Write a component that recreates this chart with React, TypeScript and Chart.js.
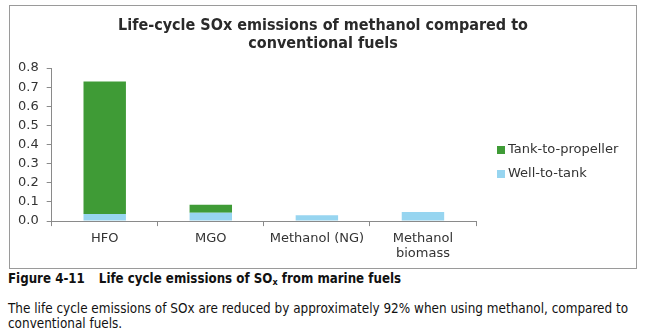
import React, { useEffect, useRef } from "react";
import { Chart, registerables, layouts } from "chart.js";

Chart.register(...registerables);

const categories: (string | string[])[] = ["HFO", "MGO", "Methanol (NG)", ["Methanol", "biomass"]];
const wellToTank = [0.037, 0.043, 0.031, 0.048];
const tankToPropeller = [0.693, 0.042, 0, 0];
const seriesNames = ["Well-to-tank", "Tank-to-propeller"];
const seriesColors = ["#97d5f0", "#3f9b36"];
const titleLines = ["Life-cycle SOx emissions of methanol compared to", "conventional fuels"];
const yMin = 0;
const yMax = 0.8;
const yStep = 0.1;

const AXIS_COLOR = "#8a8a8a";
const TEXT_COLOR = "#333333";
const LEGEND_SPACE = 160;

// Reserves room at the right of the plot (below the full-width title) and draws the legend there.
const sideLegend = {
  id: "sideLegend",
  beforeInit(chart: any) {
    const box: any = {
      position: "right",
      weight: 0,
      fullSize: false,
      options: {},
      left: 0,
      top: 0,
      right: 0,
      bottom: 0,
      width: 0,
      height: 0,
      isHorizontal() {
        return false;
      },
      update(maxWidth: number, maxHeight: number) {
        this.width = LEGEND_SPACE;
        this.height = maxHeight;
        this.maxWidth = maxWidth;
        this.maxHeight = maxHeight;
      },
      draw() {},
    };
    layouts.addBox(chart, box);
  },
  afterDraw(chart: any) {
    const { ctx, chartArea } = chart;
    const items = chart.data.datasets.slice().reverse();
    ctx.save();
    ctx.font = '13px "DejaVu Sans"';
    ctx.textBaseline = "middle";
    ctx.textAlign = "left";
    items.forEach((ds: any, i: number) => {
      const cy = chartArea.top + 82 + i * 24;
      const x = chartArea.right + 21;
      ctx.fillStyle = ds.backgroundColor;
      ctx.fillRect(x, cy - 4, 8, 8);
      ctx.fillStyle = TEXT_COLOR;
      ctx.fillText(ds.label, x + 11, cy);
    });
    ctx.restore();
  },
};

export default function App() {
  const canvasRef = useRef<HTMLCanvasElement | null>(null);

  useEffect(() => {
    if (!canvasRef.current) return;
    const chart = new Chart(canvasRef.current, {
      type: "bar",
      data: {
        labels: categories,
        datasets: [
          {
            label: seriesNames[0],
            data: wellToTank,
            backgroundColor: seriesColors[0],
            borderWidth: 0,
          },
          {
            label: seriesNames[1],
            data: tankToPropeller,
            backgroundColor: seriesColors[1],
            borderWidth: 0,
          },
        ],
      },
      options: {
        animation: false,
        responsive: false,
        maintainAspectRatio: false,
        devicePixelRatio: 1,
        datasets: {
          bar: { barPercentage: 0.4, categoryPercentage: 1 },
        },
        layout: { padding: { left: 0, right: 0, top: 0, bottom: 2 } },
        plugins: {
          legend: { display: false },
          tooltip: { enabled: false },
          title: {
            display: true,
            text: titleLines,
            color: "#2a2a2a",
            font: { family: '"DejaVu Sans Condensed", "DejaVu Sans"', size: 16, weight: "bold", lineHeight: 1.125 },
            padding: { top: 11, bottom: 15 },
          },
        },
        scales: {
          x: {
            stacked: true,
            grid: {
              display: true,
              offset: true,
              drawOnChartArea: false,
              drawTicks: true,
              tickLength: 5,
              color: AXIS_COLOR,
            },
            border: { display: true, color: AXIS_COLOR, width: 1 },
            ticks: {
              color: TEXT_COLOR,
              font: { family: '"DejaVu Sans"', size: 13, lineHeight: 1.15 },
              padding: 5,
              maxRotation: 0,
              autoSkip: false,
            },
          },
          y: {
            stacked: true,
            min: yMin,
            max: yMax,
            grid: {
              display: true,
              drawOnChartArea: false,
              drawTicks: true,
              tickLength: 5,
              color: AXIS_COLOR,
            },
            border: { display: true, color: AXIS_COLOR, width: 1 },
            ticks: {
              stepSize: yStep,
              autoSkip: false,
              color: TEXT_COLOR,
              font: { family: '"DejaVu Sans"', size: 13, lineHeight: 1 },
              padding: 8,
              callback: (v: any) => Number(v).toFixed(1),
            },
          },
        },
      },
      plugins: [sideLegend],
    });
    return () => chart.destroy();
  }, []);

  return (
    <div style={{ position: "absolute", left: 0, top: 0, width: 647, height: 332, background: "#fff" }}>
      <div
        style={{
          position: "absolute",
          left: 9,
          top: 5,
          width: 628,
          height: 264,
          border: "1px solid #9a9a9a",
          boxSizing: "border-box",
        }}
      >
        <canvas ref={canvasRef} width={626} height={262} style={{ display: "block", width: 626, height: 262 }} />
      </div>
      <div
        style={{
          position: "absolute",
          left: 8,
          top: 271,
          whiteSpace: "nowrap",
          fontFamily: '"DejaVu Sans Condensed", "DejaVu Sans", sans-serif',
          fontWeight: "bold",
          fontSize: 13.2,
          lineHeight: "16px",
          color: "#111",
        }}
      >
        <span style={{ marginRight: 14 }}>Figure 4-11</span>
        Life cycle emissions of SO<sub style={{ fontSize: 9, verticalAlign: "-2px" }}>x</sub> from marine fuels
      </div>
      <div
        style={{
          position: "absolute",
          left: 8,
          top: 301,
          whiteSpace: "nowrap",
          fontFamily: '"DejaVu Sans Condensed", "DejaVu Sans", sans-serif',
          fontSize: 13.4,
          lineHeight: "15px",
          color: "#111",
        }}
      >
        The life cycle emissions of SOx are reduced by approximately 92% when using methanol, compared to
        <br />
        conventional fuels.
      </div>
    </div>
  );
}
